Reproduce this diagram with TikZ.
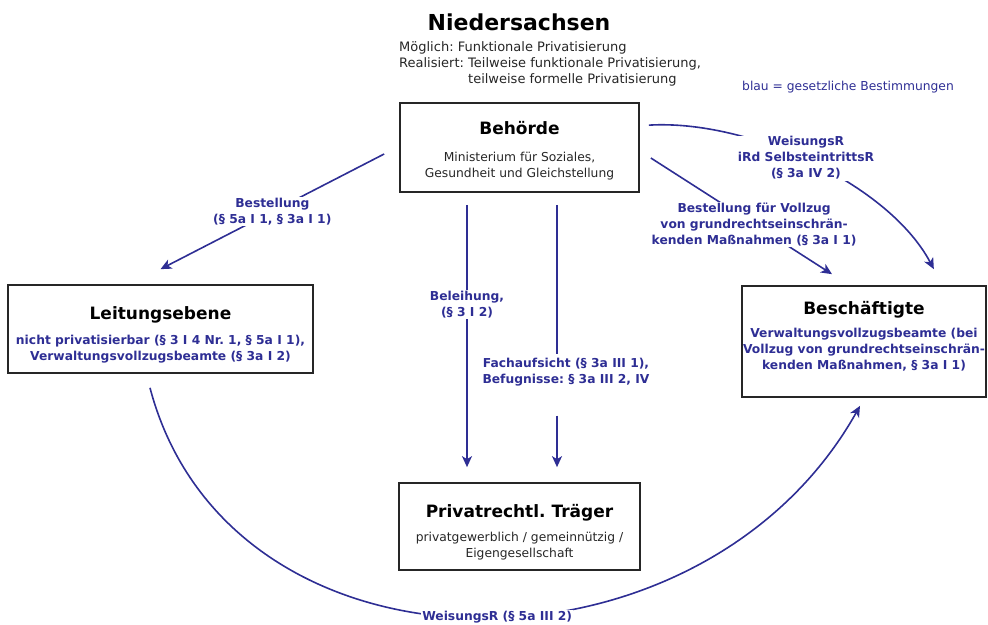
\documentclass[tikz,border=0pt]{standalone}
\usepackage{fontspec}
\setmainfont{DejaVu Sans}
\usetikzlibrary{arrows.meta}
\definecolor{lawblue}{RGB}{46,46,148}
\frenchspacing

\begin{document}
\begin{tikzpicture}[x=1pt,y=-1pt,
  box/.style={draw=black!85, line width=1.7pt, rectangle, inner sep=0pt},
  boxtitle/.style={font=\bfseries\fontsize{17}{20}\selectfont, text=black},
  boxsub/.style={font=\fontsize{12.3}{16}\selectfont, align=center, text=black!85},
  law/.style={font=\bfseries\fontsize{12.3}{16}\selectfont, align=center, text=lawblue},
  lbl/.style={law, fill=white, inner sep=1pt},
  conn/.style={draw=lawblue, line width=1.6pt},
  arr/.style={conn, -{Stealth[length=11pt,width=10pt,inset=3pt]}},
]
\useasboundingbox (0,0) rectangle (988,624);

% heading
\node[font=\bfseries\fontsize{22}{26}\selectfont] (title) at (519,22) {Niedersachsen};
\node[anchor=north west, font=\fontsize{13}{16.3}\selectfont, align=left,
      inner sep=0pt, text=black!85] (intro) at (399,41)
  {Möglich: Funktionale Privatisierung\\
   Realisiert: Teilweise funktionale Privatisierung,\\
   \hphantom{Realisiert: }teilweise formelle Privatisierung};
\node[font=\fontsize{12.3}{15}\selectfont, text=lawblue] (legend) at (848,87)
  {blau = gesetzliche Bestimmungen};

% Behörde
\node[box, minimum width=239pt, minimum height=89pt] (beh) at (519.5,147.5) {};
\node[boxtitle] (behT) at (519.5,128) {Behörde};
\node[boxsub] (behS) at (519.5,166) {Ministerium für Soziales,\\Gesundheit und Gleichstellung};

% Leitungsebene
\node[box, minimum width=305pt, minimum height=88pt] (leit) at (160.5,329) {};
\node[boxtitle] (leitT) at (160.5,315) {Leitungsebene};
\node[law] (leitS) at (160.5,349) {nicht privatisierbar (§ 3 I 4 Nr. 1, § 5a I 1),\\Verwaltungsvollzugsbeamte (§ 3a I 2)};

% Beschäftigte
\node[box, minimum width=244pt, minimum height=111pt] (besch) at (864,341.5) {};
\node[boxtitle] (beschT) at (864,310) {Beschäftigte};
\node[law] (beschS) at (864,350) {Verwaltungsvollzugsbeamte (bei\\Vollzug von grundrechtseinschrän-\\kenden Maßnahmen, § 3a I 1)};

% Privatrechtlicher Träger
\node[box, minimum width=241pt, minimum height=87pt] (traeg) at (519.5,526.5) {};
\node[boxtitle] (traegT) at (519.5,513) {Privatrechtl. Träger};
\node[boxsub] (traegS) at (519.5,546) {privatgewerblich / gemeinnützig /\\Eigengesellschaft};

% Bestellung -> Leitungsebene
\coordinate (bsA) at ([xshift=-15pt,yshift=-6.5pt]beh.west);
\coordinate (bsB) at ([yshift=15pt]leit.north);
\draw[arr] (bsA) -- node[lbl]{Bestellung\\(§ 5a I 1, § 3a I 1)} (bsB);

% Beleihung -> Träger
\coordinate (blA) at ([xshift=-52.5pt,yshift=-12pt]beh.south);
\coordinate (blB) at ([xshift=-52.5pt,yshift=15pt]traeg.north);
\draw[arr] (blA) -- node[lbl,pos=0.38]{Beleihung,\\(§ 3 I 2)} (blB);

% Fachaufsicht -> Träger
\coordinate (faA) at ([xshift=37.5pt,yshift=-12pt]beh.south);
\coordinate (faB) at ([xshift=37.5pt,yshift=15pt]traeg.north);
\node[law] (faL) at (566,372) {Fachaufsicht (§ 3a III 1),\\Befugnisse: § 3a III 2, IV};
\coordinate (faC) at (faA |- faL.south);
\draw[conn] (faA) -- (faA |- faL.north);
\draw[arr] ([yshift=-26pt]faC) -- (faB);

% Bestellung für Vollzug -> Beschäftigte
\coordinate (bvA) at ([xshift=11pt,yshift=-10.5pt]beh.east);
\coordinate (bvB) at ([xshift=-32pt,yshift=11pt]besch.north);
\draw[arr] (bvA) -- node[lbl,pos=0.57]{Bestellung für Vollzug\\von grundrechtseinschrän-\\kenden Maßnahmen (§ 3a I 1)} (bvB);

% WeisungsR im Rahmen des Selbsteintrittsrechts
\coordinate (wsA) at ([xshift=9pt,yshift=-23pt]beh.north east);
\coordinate (wsB) at ([xshift=-53pt,yshift=16pt]besch.north east);
\draw[arr] (wsA) .. controls +(100,-6) and +(-45,-85) ..
  node[lbl,xshift=-6pt,yshift=5pt]{WeisungsR\\iRd SelbsteintrittsR\\(§ 3a IV 2)} (wsB);

% WeisungsR Leitungsebene -> Beschäftigte
\coordinate (wbA) at ([xshift=-10.5pt,yshift=-14pt]leit.south);
\coordinate (wbB) at ([xshift=-4pt,yshift=-8pt]besch.south);
\draw[arr] (wbA) .. controls +(80,303) and +(-160,285) ..
  node[lbl,pos=0.525]{WeisungsR (§ 5a III 2)} (wbB);
\end{tikzpicture}
\end{document}
